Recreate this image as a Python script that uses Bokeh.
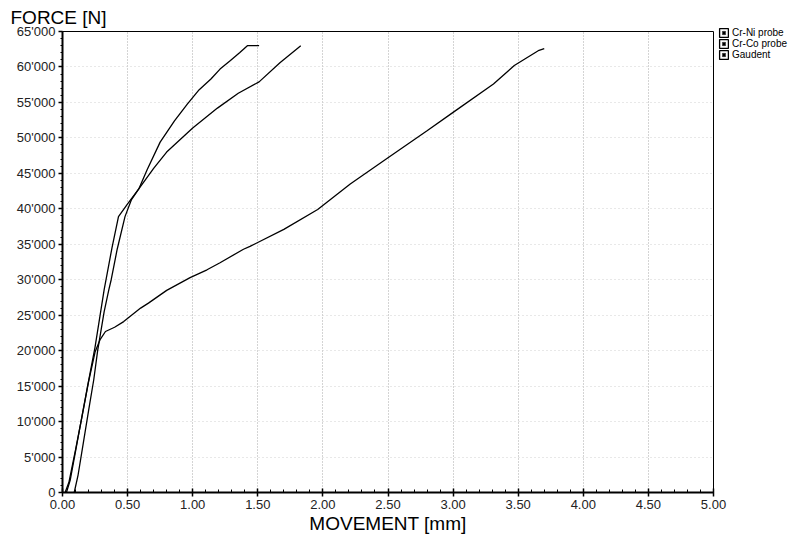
from bokeh.plotting import figure
from bokeh.models import (Range1d, Legend, LegendItem, Title, NumeralTickFormatter,
                          CustomJSTickFormatter, FixedTicker)
from bokeh.embed import file_html
from bokeh.resources import INLINE

# Cr-Ni probe (ends with flat top near 1.5 mm)
crni_x = [0.09, 0.12, 0.16, 0.20, 0.24, 0.27, 0.32, 0.356, 0.374, 0.42, 0.48, 0.53, 0.586,
          0.65, 0.75, 0.86, 0.96, 1.05, 1.14, 1.21, 1.29, 1.36, 1.42, 1.51]
crni_y = [0, 2500, 7000, 11500, 15900, 20000, 25500, 28600, 30000, 34300, 38900, 41300, 42800,
          45500, 49400, 52400, 54800, 56800, 58300, 59700, 60900, 62000, 63000, 63000]

# Cr-Co probe (kink near 0.43 mm, ends at 1.83 mm)
crco_x = [0.03, 0.06, 0.10, 0.15, 0.20, 0.25, 0.32, 0.38, 0.43, 0.50, 0.586, 0.70, 0.80,
          1.00, 1.19, 1.35, 1.51, 1.67, 1.83]
crco_y = [0, 1800, 5800, 10800, 15700, 20500, 28600, 34500, 38900, 40700, 42800, 45700, 48000,
          51400, 54200, 56300, 57900, 60600, 63000]

# Gaudent (yield knee near 21'000 N, ends at 3.70 mm)
gaud_x = [0.02, 0.05, 0.10, 0.15, 0.20, 0.25, 0.29, 0.33, 0.40, 0.47, 0.60, 0.66, 0.80,
          0.98, 1.11, 1.21, 1.39, 1.44, 1.70, 1.96, 2.21, 2.50, 2.80, 3.00, 3.31, 3.47,
          3.66, 3.70]
gaud_y = [0, 1500, 6000, 10700, 15600, 19800, 21600, 22700, 23300, 24100, 26000, 26700, 28500,
          30300, 31400, 32400, 34300, 34700, 37100, 39900, 43500, 47200, 51000, 53600, 57600,
          60200, 62350, 62600]

x_ticks = [0, 0.5, 1.0, 1.5, 2.0, 2.5, 3.0, 3.5, 4.0, 4.5, 5.0]
y_ticks = [0, 5000, 10000, 15000, 20000, 25000, 30000, 35000, 40000, 45000, 50000,
           55000, 60000, 65000]
legend_labels = ["Cr-Ni probe", "Cr-Co probe", "Gaudent"]

FONT = "Liberation Sans"

p = figure(frame_width=651, frame_height=461, output_backend="svg", toolbar_location=None,
           x_range=Range1d(0, 5), y_range=Range1d(0, 65000),
           min_border_left=62, min_border_right=82, min_border_top=31, min_border_bottom=42)
p.background_fill_color = "white"
p.border_fill_color = "white"
p.outline_line_color = "black"
p.outline_line_width = 1

p.add_layout(Title(text="FORCE [N]", align="left", offset=-52, text_font_size="19px",
                   text_font=FONT, text_font_style="normal", text_color="black",
                   standoff=8), "above")

# Axes
p.xaxis.ticker = FixedTicker(ticks=x_ticks,
                             minor_ticks=[i * 0.1 for i in range(51)])
p.yaxis.ticker = FixedTicker(ticks=y_ticks,
                             minor_ticks=[i * 1000 for i in range(66)])
p.xaxis.formatter = NumeralTickFormatter(format="0.00")
p.yaxis.formatter = CustomJSTickFormatter(code="""
    var s = Math.round(tick).toString();
    return s.replace(/\\B(?=(\\d{3})+(?!\\d))/g, "'");
""")
for ax in (p.xaxis, p.yaxis):
    ax.axis_line_color = "black"
    ax.axis_line_width = 2
    ax.major_tick_line_color = "black"
    ax.major_tick_line_width = 1.5
    ax.minor_tick_line_color = "black"
    ax.major_label_text_font = FONT
    ax.major_label_text_font_size = "13px"
    ax.major_label_text_color = "#222222"
    ax.major_label_standoff = 3

p.xaxis.major_tick_in = 4
p.xaxis.major_tick_out = 4
p.xaxis.minor_tick_in = 3
p.xaxis.minor_tick_out = 0
p.yaxis.major_tick_in = 0
p.yaxis.major_tick_out = 4
p.yaxis.minor_tick_in = 0
p.yaxis.minor_tick_out = 2

p.xaxis.axis_label = "MOVEMENT [mm]"
p.xaxis.axis_label_text_font = FONT
p.xaxis.axis_label_text_font_size = "19px"
p.xaxis.axis_label_text_font_style = "normal"
p.xaxis.axis_label_text_color = "black"
p.xaxis.axis_label_standoff = 1

# Grid
p.xgrid.grid_line_color = "#a8a8a8"
p.xgrid.grid_line_dash = "1 2"
p.xgrid.grid_line_width = 1
p.ygrid.grid_line_color = "#d0d0d0"
p.ygrid.grid_line_dash = "1 3"
p.ygrid.grid_line_width = 1

# Curves
p.line(crni_x, crni_y, line_color="black", line_width=1.3)
p.line(crco_x, crco_y, line_color="black", line_width=1.3)
p.line(gaud_x, gaud_y, line_color="black", line_width=1.3)

# Legend with checkbox-like glyphs (off-range dummies so only the legend glyph shows)
items = []
for lab in legend_labels:
    box = p.quad(left=[-2], right=[-1.5], bottom=[-2000], top=[-1000],
                 fill_color=None, line_color="black", line_width=1.3)
    mark = p.scatter([-1], [-1000], marker="x", size=6, line_color="black", line_width=1.8)
    items.append(LegendItem(label=lab, renderers=[box, mark]))
legend = Legend(items=items,
                location=(5, 432), margin=0, padding=0, spacing=0,
                glyph_width=11, glyph_height=11, label_height=11, label_standoff=3,
                label_text_font=FONT, label_text_font_size="10px", label_text_color="black",
                border_line_color=None, background_fill_alpha=0)
p.add_layout(legend, "right")

open("out.html", "w").write(file_html(p, INLINE))
